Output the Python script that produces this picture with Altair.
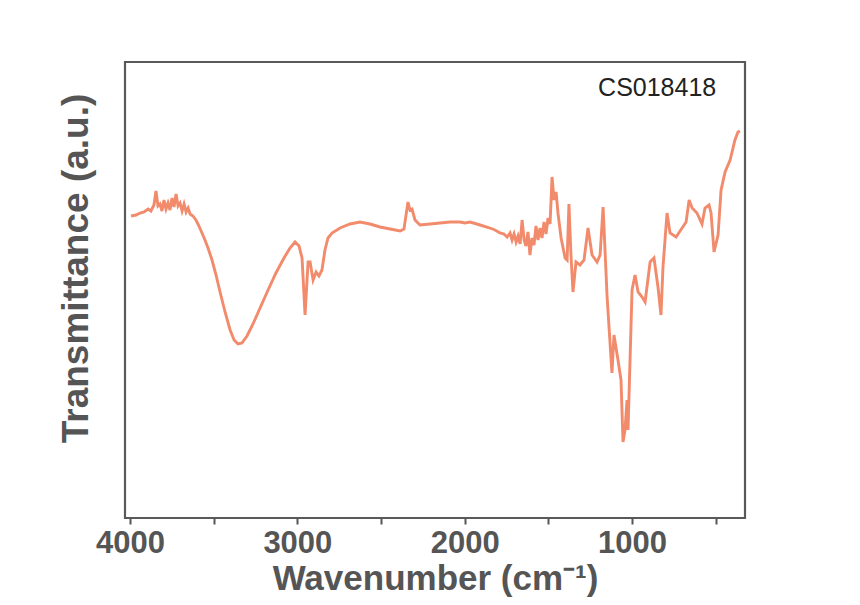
import altair as alt
import pandas as pd

# Wavenumber (cm-1) and transmittance (arbitrary units)
wavenumber = [
    3994, 3964, 3940, 3916, 3892, 3875, 3857, 3845, 3833, 3821,
    3809, 3797, 3785, 3773, 3761, 3749, 3737, 3725, 3713, 3701,
    3689, 3677, 3665, 3653, 3641, 3624, 3606, 3588, 3570, 3552,
    3534, 3510, 3486, 3462, 3432, 3402, 3378, 3355, 3331, 3301,
    3265, 3223, 3175, 3128, 3080, 3044, 3014, 2990, 2972, 2954,
    2936, 2924, 2906, 2888, 2871, 2853, 2835, 2817, 2793, 2745,
    2685, 2626, 2566, 2506, 2446, 2386, 2363, 2339, 2327, 2315,
    2297, 2267, 2207, 2147, 2088, 2028, 1998, 1968, 1908, 1849,
    1819, 1789, 1765, 1747, 1729, 1717, 1705, 1693, 1681, 1669,
    1657, 1645, 1634, 1622, 1610, 1598, 1586, 1574, 1562, 1550,
    1538, 1526, 1514, 1502, 1490, 1478, 1466, 1454, 1442, 1424,
    1400, 1388, 1377, 1365, 1353, 1335, 1311, 1287, 1263, 1239,
    1209, 1191, 1173, 1149, 1120, 1108, 1084, 1066, 1054, 1042,
    1030, 1024, 1000, 982, 964, 940, 922, 892, 869, 845,
    827, 815, 791, 773, 737, 701, 677, 659, 641, 612,
    582, 564, 540, 528, 510, 486, 468, 444, 414, 385,
    367, 355,
]
transmittance = [
    302, 303, 305, 306, 309, 307, 313, 327, 312, 314,
    307, 318, 309, 315, 308, 320, 311, 324, 312, 315,
    307, 314, 306, 310, 304, 302, 298, 292, 285, 278,
    270, 258, 243, 226, 206, 188, 178, 174, 175, 182,
    194, 210, 228, 245, 260, 270, 276, 272, 260, 203,
    256, 256, 238, 246, 242, 248, 268, 280, 285, 290,
    294, 296, 294, 291, 289, 287, 289, 316, 308, 309,
    298, 293, 294, 295, 296, 296, 295, 296, 293, 290,
    288, 285, 284, 281, 285, 278, 284, 276, 282, 274,
    298, 278, 272, 286, 263, 280, 273, 292, 278, 290,
    280, 296, 284, 300, 294, 341, 318, 326, 304, 280,
    260, 258, 314, 263, 226, 256, 253, 258, 290, 263,
    256, 263, 311, 221, 145, 183, 158, 138, 76, 88,
    118, 88, 228, 243, 226, 221, 216, 256, 260, 231,
    203, 251, 305, 285, 281, 290, 296, 318, 310, 305,
    294, 310, 313, 305, 266, 283, 328, 346, 358, 378,
    386, 387,
]

label_text = ["CS018418"]
label_x = [1203]
label_y = [430]

df = pd.DataFrame({"wn": wavenumber, "t": transmittance})
lab = pd.DataFrame({"text": label_text, "wn": label_x, "t": label_y})

x_scale = alt.Scale(domain=[325, 4030], reverse=True, nice=False, zero=False)
y_scale = alt.Scale(domain=[0, 456], nice=False, zero=False)

line = alt.Chart(df).mark_line(color="#F28A6C", strokeWidth=2.9).encode(
    x=alt.X(
        "wn:Q",
        scale=x_scale,
        title="Wavenumber (cm⁻¹)",
        axis=alt.Axis(
            values=[4000, 3500, 3000, 2500, 2000, 1500, 1000, 500],
            format="d",
            labelExpr="datum.value % 1000 == 0 ? datum.label : ''",
            grid=False,
            domain=False,
            tickSize=6,
            tickWidth=2,
            tickColor="#555555",
            labelFont="Liberation Sans",
            labelFontWeight="bold",
            labelFontSize=31,
            labelColor="#555555",
            labelPadding=4,
            titleFont="Liberation Sans",
            titleFontWeight="bold",
            titleFontSize=35,
            titleColor="#555555",
            titlePadding=3,
        ),
    ),
    y=alt.Y(
        "t:Q",
        scale=y_scale,
        title="Transmittance (a.u.)",
        axis=alt.Axis(
            labels=False,
            ticks=False,
            domain=False,
            grid=False,
            titleFont="Liberation Sans",
            titleFontWeight="bold",
            titleFontSize=37,
            titleColor="#555555",
            titlePadding=30,
            titleY=206,
        ),
    ),
)

text = alt.Chart(lab).mark_text(
    align="left", baseline="middle", font="Liberation Sans", fontSize=25, color="#222222"
).encode(x=alt.X("wn:Q", scale=x_scale), y=alt.Y("t:Q", scale=y_scale), text="text:N")

chart = (
    alt.layer(line, text)
    .properties(
        width=620,
        height=456,
        autosize=alt.AutoSizeParams(type="none"),
        padding={"left": 117, "top": 54, "right": 20, "bottom": 80},
        background="white",
    )
    .configure_view(stroke="#595959", strokeWidth=2.2)
)

chart.save("out.html", embed_options={"renderer": "svg", "actions": False})
